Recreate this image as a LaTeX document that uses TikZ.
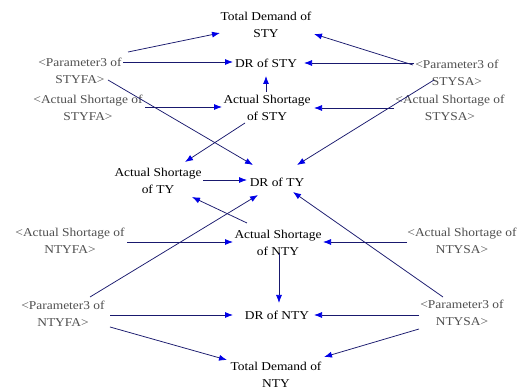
\documentclass[tikz,border=0pt]{standalone}
\usepackage{fontspec}
\setmainfont{Liberation Serif}[FakeStretch=1.12]
\usetikzlibrary{arrows.meta,calc}
\definecolor{linec}{RGB}{25,25,110}
\definecolor{tipc}{RGB}{0,0,230}
\definecolor{shadowc}{RGB}{80,80,80}
\begin{document}
\begin{tikzpicture}[x=1pt,y=-1pt,
  var/.style={align=center,font=\fontsize{12}{16.5}\selectfont,inner sep=1pt},
  shadowvar/.style={var,text=shadowc},
  arr/.style={draw=linec,line width=0.75pt,-{Latex[length=8pt,width=6pt,color=tipc]}}]
\useasboundingbox[fill=white] (0,0) rectangle (523,387);
% nodes
\node[var] (tdsty) at (266,25) {Total Demand of\\STY};
\node[var] (drsty) at (266,63) {DR of STY};
\node[shadowvar] (p3sfa) at (80,71) {<Parameter3 of\\STYFA>};
\node[shadowvar] (p3ssa) at (457,73) {<Parameter3 of\\STYSA>};
\node[shadowvar] (assfa) at (88,108) {<Actual Shortage of\\STYFA>};
\node[var] (assty) at (267,108) {Actual Shortage\\of STY};
\node[shadowvar] (asssa) at (450,108) {<Actual Shortage of\\STYSA>};
\node[var] (asty) at (158,181) {Actual Shortage\\of TY};
\node[var] (drty) at (277,182) {DR of TY};
\node[shadowvar] (asnfa) at (70,241) {<Actual Shortage of\\NTYFA>};
\node[var] (asnty) at (278,243) {Actual Shortage\\of NTY};
\node[shadowvar] (asnsa) at (462,241) {<Actual Shortage of\\NTYSA>};
\node[shadowvar] (p3nfa) at (63,314) {<Parameter3 of\\NTYFA>};
\node[var] (drnty) at (277,315) {DR of NTY};
\node[shadowvar] (p3nsa) at (462,313) {<Parameter3 of\\NTYSA>};
\node[var] (tdnty) at (276,375) {Total Demand of\\NTY};
% connectors
\draw[arr] ($(p3sfa)+(48,-19)$) -- ($(tdsty)+(-46,8)$);
\draw[arr] ($(p3sfa)+(43,-9)$) -- ($(drsty)+(-33,-1)$);
\draw[arr] ($(p3sfa)+(28,9)$) -- ($(drty)+(-24,-17)$);
\draw[arr] ($(p3ssa)+(-44,-8)$) -- ($(tdsty)+(48,9)$);
\draw[arr] ($(p3ssa)+(-43,-10)$) -- ($(drsty)+(38,0)$);
\draw[arr] ($(p3ssa)+(-23,7)$) -- ($(drty)+(20,-17)$);
\draw[arr] ($(assfa)+(57,-1)$) -- ($(assty)+(-45,-1)$);
\draw[arr] ($(asssa)+(-56,0)$) -- ($(assty)+(47,0)$);
\draw[arr] ($(assty)+(-1,-16)$) -- ($(drsty)+(0,13)$);
\draw[arr] ($(assty)+(-22,15)$) -- ($(asty)+(27,-19)$);
\draw[arr] ($(asty)+(45,-1)$) -- ($(drty)+(-30,-2)$);
\draw[arr] ($(asnty)+(-31,-20)$) -- ($(asty)+(34,16)$);
\draw[arr] ($(p3nfa)+(27,-17)$) -- ($(drty)+(-19,13)$);
\draw[arr] ($(p3nsa)+(-19,-16)$) -- ($(drty)+(16,10)$);
\draw[arr] ($(asnfa)+(57,1)$) -- ($(asnty)+(-45,-1)$);
\draw[arr] ($(asnsa)+(-55,1)$) -- ($(asnty)+(45,-1)$);
\draw[arr] ($(asnty)+(1,10)$) -- ($(drnty)+(2,-12)$);
\draw[arr] ($(p3nfa)+(47,1)$) -- ($(drnty)+(-44,0)$);
\draw[arr] ($(p3nsa)+(-43,2)$) -- ($(drnty)+(37,0)$);
\draw[arr] ($(p3nfa)+(47,13)$) -- ($(tdnty)+(-49,-15)$);
\draw[arr] ($(p3nsa)+(-43,16)$) -- ($(tdnty)+(48,-18)$);
\end{tikzpicture}
\end{document}
